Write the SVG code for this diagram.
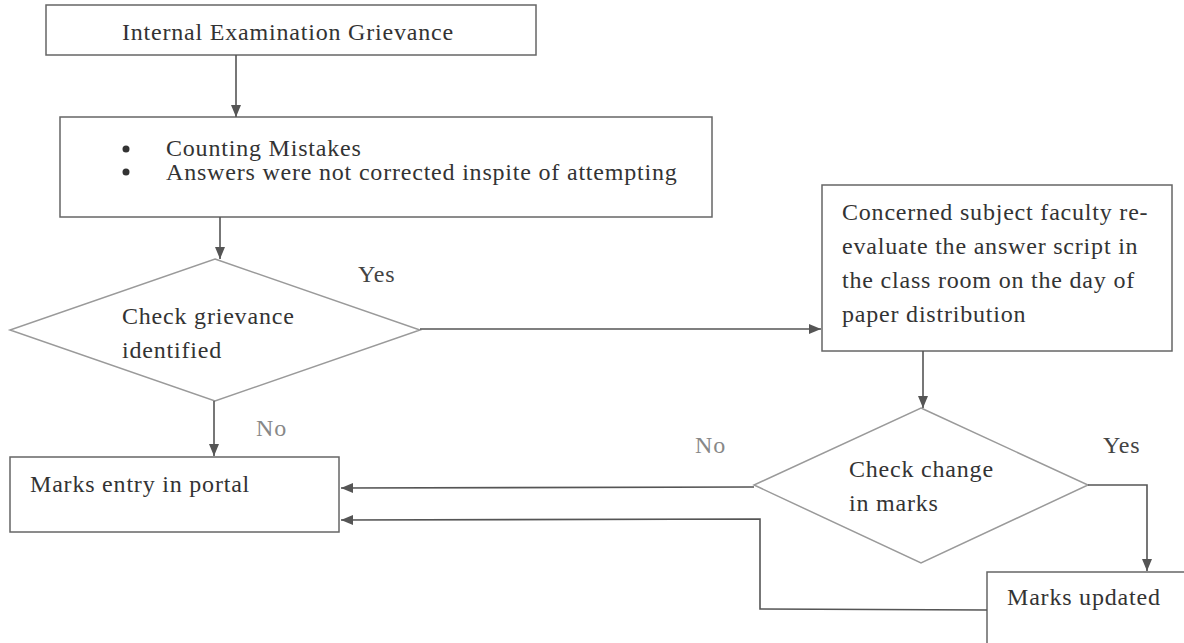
<svg xmlns="http://www.w3.org/2000/svg" width="1184" height="643" viewBox="0 0 1184 643">
<defs>
<style>
.box{fill:#fff;stroke:#666;stroke-width:1.5}
.dia{fill:#fff;stroke:#9a9a9a;stroke-width:1.5}
.t{font-family:"Liberation Serif","Times New Roman",serif;font-size:24px;letter-spacing:0.8px;fill:#333}
.lbl{font-family:"Liberation Serif","Times New Roman",serif;font-size:24px;letter-spacing:0.8px;fill:#444}
.gray{fill:#888}
.c{fill:none;stroke:#555;stroke-width:1.6}
</style>
<marker id="ah" markerUnits="userSpaceOnUse" markerWidth="14" markerHeight="12" refX="12" refY="6" orient="auto">
<path d="M0,1 L12,6 L0,11 Z" fill="#555"/>
</marker>
</defs>
<rect width="1184" height="643" fill="#fff"/>

<g id="n-grievance">
<rect class="box" x="46" y="5" width="490" height="50"/>
<text class="t" x="122" y="40">Internal Examination Grievance</text>
</g>

<g id="n-mistakes">
<rect class="box" x="60" y="117" width="652" height="100"/>
<circle cx="126" cy="149" r="3.5" fill="#333"/>
<text class="t" x="166" y="156">Counting Mistakes</text>
<circle cx="126" cy="172" r="3.5" fill="#333"/>
<text class="t" x="166" y="180">Answers were not corrected inspite of attempting</text>
</g>

<g id="n-check-grievance">
<polygon class="dia" points="215,259 420,330 215,401 10,330"/>
<text class="t" x="122" y="324">Check grievance</text>
<text class="t" x="122" y="358">identified</text>
</g>

<g id="n-marks-entry">
<rect class="box" x="10" y="457" width="329" height="75"/>
<text class="t" x="30" y="492">Marks entry in portal</text>
</g>

<g id="n-reevaluate">
<rect class="box" x="822" y="185" width="350" height="166"/>
<text class="t" x="842" y="220">Concerned subject faculty re-</text>
<text class="t" x="842" y="254">evaluate the answer script in</text>
<text class="t" x="842" y="288">the class room on the day of</text>
<text class="t" x="842" y="322">paper distribution</text>
</g>

<g id="n-check-change">
<polygon class="dia" points="921,408 1088,485 921,563 754,485"/>
<text class="t" x="849" y="477">Check change</text>
<text class="t" x="849" y="511">in marks</text>
</g>

<g id="n-marks-updated">
<rect class="box" x="987" y="572" width="210" height="80"/>
<text class="t" x="1007" y="605">Marks updated</text>
</g>

<g id="connectors">
<line class="c" x1="236" y1="55" x2="236" y2="117" marker-end="url(#ah)"/>
<line class="c" x1="220" y1="217" x2="220" y2="259" marker-end="url(#ah)"/>
<line class="c" x1="420" y1="329" x2="821" y2="329" marker-end="url(#ah)"/>
<line class="c" x1="214" y1="401" x2="214" y2="456" marker-end="url(#ah)"/>
<line class="c" x1="923" y1="351" x2="923" y2="408" marker-end="url(#ah)"/>
<line class="c" x1="754" y1="487" x2="341" y2="488" marker-end="url(#ah)"/>
<polyline class="c" points="1088,485 1147,485 1147,571" marker-end="url(#ah)"/>
<polyline class="c" points="987,610 760,609 760,519 341,520" marker-end="url(#ah)"/>
<text class="lbl" x="358" y="282">Yes</text>
<text class="lbl gray" x="256" y="436">No</text>
<text class="lbl gray" x="695" y="453">No</text>
<text class="lbl" x="1103" y="453">Yes</text>
</g>
</svg>
